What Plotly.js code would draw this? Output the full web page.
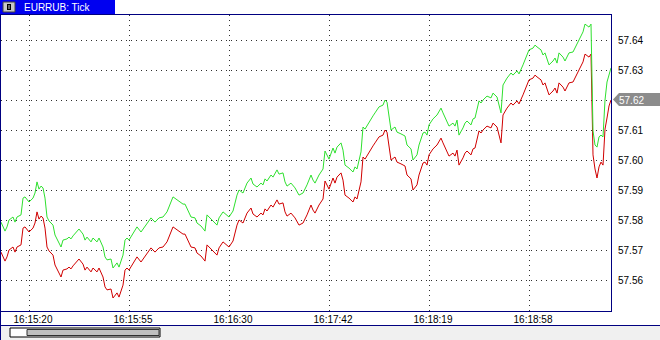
<!DOCTYPE html>
<html>
<head>
<meta charset="utf-8">
<script src="https://cdn.plot.ly/plotly-3.0.1.min.js"></script>
<style>
  html, body { margin: 0; padding: 0; background: #ffffff; }
  #chart { width: 660px; height: 340px; }
</style>
</head>
<body>
<div id="chart"></div>
<script>
// ---- data ----
const symbol = "EURRUB: Tick";
const tickNo = [0,2,3,4,6,7,8,10,11,12,14,16,17,18,19,20,21,22,23,24,26,27,30,31,33,34,35,36,39,41,42,43,45,46,48,49,51,52,53,55,56,58,59,61,62,63,64,66,68,70,73,75,77,79,81,83,86,88,91,92,95,97,98,100,102,103,106,108,109,111,114,116,118,119,121,123,125,126,128,130,131,132,133,135,136,138,139,141,142,143,145,147,149,151,153,155,156,157,159,161,162,164,166,167,168,170,171,172,174,176,177,178,180,181,182,184,186,187,189,191,192,193,195,197,198,200,202,203,205,206,208,209,211,212,213,214,216,218,220,221,223,224,226,227,228,229,231,232,233,235,236,237,239,240,241,243,245,246,248,249,250,251,253,255,256,258,259,261,262,264,266,267,268,270,271,272,274,276,277,278,279,281,282,284,286,287,289,291,292,294,295,296,297,298,299,300,301,302,303,304,305];
const bid = [57.5693,57.5663,57.5677,57.5700,57.5710,57.5693,57.5710,57.5717,57.5773,57.5777,57.5760,57.5773,57.5790,57.5827,57.5803,57.5813,57.5807,57.5773,57.5710,57.5697,57.5683,57.5650,57.5610,57.5633,57.5637,57.5643,57.5637,57.5647,57.5670,57.5653,57.5633,57.5643,57.5627,57.5640,57.5627,57.5640,57.5610,57.5577,57.5567,57.5570,57.5540,57.5557,57.5543,57.5583,57.5633,57.5640,57.5633,57.5657,57.5677,57.5660,57.5687,57.5707,57.5693,57.5707,57.5710,57.5727,57.5777,57.5767,57.5753,57.5753,57.5710,57.5707,57.5690,57.5680,57.5663,57.5717,57.5697,57.5683,57.5707,57.5727,57.5710,57.5730,57.5783,57.5800,57.5790,57.5823,57.5840,57.5820,57.5810,57.5823,57.5817,57.5837,57.5830,57.5850,57.5843,57.5867,57.5853,57.5857,57.5827,57.5813,57.5823,57.5807,57.5783,57.5790,57.5817,57.5850,57.5833,57.5823,57.5850,57.5870,57.5930,57.5903,57.5940,57.5923,57.5943,57.5957,57.5933,57.5883,57.5873,57.5860,57.5877,57.5870,57.5927,57.6010,57.6003,57.6027,57.6047,57.6057,57.6077,57.6083,57.6100,57.6093,57.6000,57.6010,57.5993,57.5987,57.5980,57.5950,57.5937,57.5900,57.5917,57.5950,57.5990,57.5993,57.5983,57.6017,57.6037,57.6050,57.6073,57.6057,57.6030,57.6013,57.6023,57.6013,57.6033,57.5983,57.6007,57.6023,57.6030,57.6017,57.6037,57.6040,57.6097,57.6090,57.6100,57.6113,57.6107,57.6123,57.6110,57.6080,57.6057,57.6150,57.6173,57.6190,57.6183,57.6197,57.6187,57.6217,57.6233,57.6267,57.6273,57.6283,57.6277,57.6267,57.6250,57.6257,57.6217,57.6230,57.6240,57.6223,57.6257,57.6243,57.6230,57.6257,57.6260,57.6273,57.6300,57.6327,57.6353,57.6343,57.6353,57.6017,57.5970,57.5940,57.5977,57.5993,57.5983,57.6103,57.6140,57.6180,57.6200];
const ask = [57.5793,57.5763,57.5777,57.5800,57.5810,57.5793,57.5810,57.5817,57.5873,57.5877,57.5860,57.5873,57.5890,57.5927,57.5903,57.5913,57.5907,57.5873,57.5810,57.5797,57.5783,57.5750,57.5710,57.5733,57.5737,57.5743,57.5737,57.5747,57.5770,57.5753,57.5733,57.5743,57.5727,57.5740,57.5727,57.5740,57.5710,57.5677,57.5667,57.5670,57.5640,57.5657,57.5643,57.5683,57.5733,57.5740,57.5733,57.5757,57.5777,57.5760,57.5787,57.5807,57.5793,57.5807,57.5810,57.5827,57.5877,57.5867,57.5853,57.5853,57.5810,57.5807,57.5790,57.5780,57.5763,57.5817,57.5797,57.5783,57.5807,57.5827,57.5810,57.5830,57.5883,57.5900,57.5890,57.5923,57.5940,57.5920,57.5910,57.5923,57.5917,57.5937,57.5930,57.5950,57.5943,57.5967,57.5953,57.5957,57.5927,57.5913,57.5923,57.5907,57.5883,57.5890,57.5917,57.5950,57.5933,57.5923,57.5950,57.5970,57.6030,57.6003,57.6040,57.6023,57.6043,57.6057,57.6033,57.5983,57.5973,57.5960,57.5977,57.5970,57.6027,57.6110,57.6103,57.6127,57.6147,57.6157,57.6177,57.6183,57.6200,57.6193,57.6100,57.6110,57.6093,57.6087,57.6080,57.6050,57.6037,57.6000,57.6017,57.6050,57.6090,57.6093,57.6083,57.6117,57.6137,57.6150,57.6173,57.6157,57.6130,57.6113,57.6123,57.6113,57.6133,57.6083,57.6107,57.6123,57.6130,57.6117,57.6137,57.6140,57.6197,57.6190,57.6200,57.6213,57.6207,57.6223,57.6210,57.6180,57.6157,57.6250,57.6273,57.6290,57.6283,57.6297,57.6287,57.6317,57.6333,57.6367,57.6373,57.6383,57.6377,57.6367,57.6350,57.6357,57.6317,57.6330,57.6340,57.6323,57.6357,57.6343,57.6330,57.6357,57.6360,57.6373,57.6400,57.6427,57.6453,57.6443,57.6453,57.6097,57.6050,57.6043,57.6077,57.6083,57.6077,57.6200,57.6260,57.6283,57.6307];
const timeTickNo = [14, 64, 114, 164, 214, 264];
const timeLabels = ["16:15:20", "16:15:55", "16:16:30", "16:17:42", "16:18:19", "16:18:58"];
const priceTicks = [57.56, 57.57, 57.58, 57.59, 57.60, 57.61, 57.62, 57.63, 57.64];
const lastBid = 57.62;

// ---- page geometry helpers (pixel -> paper) ----
const W = 660, H = 340;
const M = {l: 1, r: 49, t: 15, b: 29};
const PW = W - M.l - M.r, PH = H - M.t - M.b;
const px = x => (x - M.l) / PW;
const py = y => (H - M.b - y) / PH;

const NAVY = "#000080";
const FONT = "Liberation Sans, Arial, sans-serif";

const traces = [
  {x: tickNo, y: bid, type: "scatter", mode: "lines", line: {color: "#d00000", width: 1, shape: "linear"}, hoverinfo: "skip"},
  {x: tickNo, y: ask, type: "scatter", mode: "lines", line: {color: "#2ee02e", width: 1, shape: "linear"}, hoverinfo: "skip"}
];

const rect = (x0, y0, x1, y1, fill, lineColor, lw) => ({
  type: "rect", xref: "paper", yref: "paper", layer: "above",
  x0: px(x0), x1: px(x1), y0: py(y1), y1: py(y0),
  fillcolor: fill, line: {color: lineColor || fill, width: lw === undefined ? 0 : lw}
});
const hline = (x0, x1, y, color, w) => ({type: "line", xref: "paper", yref: "paper", layer: "above",
  x0: px(x0), x1: px(x1), y0: py(y), y1: py(y), line: {color: color, width: w || 1}});
const vline = (x, y0, y1, color, w) => ({type: "line", xref: "paper", yref: "paper", layer: "above",
  x0: px(x), x1: px(x), y0: py(y0), y1: py(y1), line: {color: color, width: w || 1}});

const tagY = 99.5;
const tagPath = "M " + px(613) + " " + py(tagY) + " L " + px(619) + " " + py(93) + " L " + px(660) + " " + py(93) +
                " L " + px(660) + " " + py(106) + " L " + px(619) + " " + py(106) + " Z";

const shapes = [
  // bottom status strip
  rect(0, 325.5, 660, 340, "#f0f0f0"),
  hline(0, 660, 325.5, NAVY, 1),
  // scrollbar
  rect(10, 328, 160, 337, "#ffffff", "#000000", 1),
  rect(27, 329.5, 159, 335.5, "#c0c0c0", "#303030", 1),
  // window left edge
  vline(0.5, 0, 340, NAVY, 1),
  // title tab
  rect(0, 0, 115, 14, "#0000f0"),
  rect(3, 2, 15, 12, "#c8c8c8", "#404040", 1),
  rect(7, 4, 11, 10, "#000000", "#000000", 0),
  rect(8.5, 5, 9.5, 9, "#c8c8c8", "#c8c8c8", 0),
  // last price tag
  {type: "path", xref: "paper", yref: "paper", layer: "above", path: tagPath, fillcolor: "#8c8c8c", line: {width: 0}}
];

const annotations = [
  {xref: "paper", yref: "paper", x: px(22), y: py(7.5), xanchor: "left", yanchor: "middle", showarrow: false,
   text: symbol, font: {family: FONT, size: 10, color: "#ffffff"}},
  {xref: "paper", yref: "y", x: px(617), y: lastBid, xanchor: "left", yanchor: "middle", showarrow: false,
   text: lastBid.toFixed(2), font: {family: FONT, size: 10, color: "#ffffff"}}
];

const layout = {
  width: W, height: H,
  margin: M,
  paper_bgcolor: "#ffffff", plot_bgcolor: "#ffffff",
  showlegend: false,
  font: {family: FONT, size: 10, color: "#000000"},
  xaxis: {
    range: [0, 305], fixedrange: true,
    tickmode: "array", tickvals: timeTickNo, ticktext: timeLabels,
    ticks: "", ticklabelshift: 4, ticklabelstandoff: -1,
    showgrid: true, gridcolor: "#303030", gridwidth: 1, griddash: "1px,4px",
    zeroline: false, showline: true, mirror: true, linecolor: NAVY, linewidth: 1,
    tickfont: {family: FONT, size: 10, color: "#000000"}
  },
  yaxis: {
    range: [57.549667, 57.648333], fixedrange: true, side: "right",
    tickmode: "array", tickvals: priceTicks,
    ticktext: priceTicks.map(v => (Math.abs(v - lastBid) < 1e-9 ? "" : v.toFixed(2))),
    ticks: "", ticklabelstandoff: 4,
    showgrid: true, gridcolor: "#303030", gridwidth: 1, griddash: "1px,4px",
    zeroline: false, showline: true, mirror: true, linecolor: NAVY, linewidth: 1,
    tickfont: {family: FONT, size: 10, color: "#000000"}
  },
  shapes: shapes,
  annotations: annotations
};

Plotly.newPlot("chart", traces, layout, {staticPlot: true, displayModeBar: false});
</script>
</body>
</html>
